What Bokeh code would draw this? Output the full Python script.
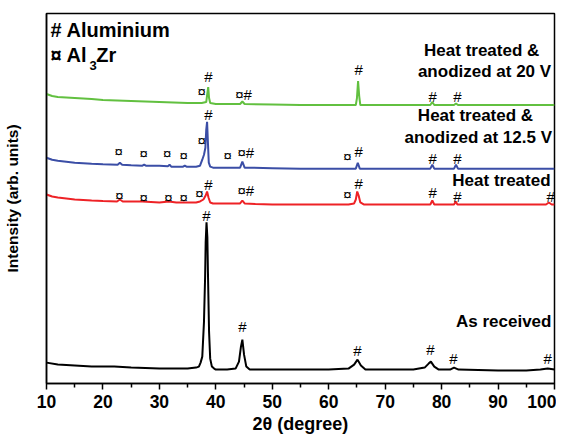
from bokeh.plotting import figure
from bokeh.models import ColumnDataSource, FixedTicker, Range1d, Label
from bokeh.core.properties import value
from bokeh.embed import file_html
from bokeh.resources import INLINE

# ---- data (2theta in degrees, intensity in arbitrary units, stacked) ----
black_x = [10, 12, 15, 18, 20, 22, 25, 30, 35, 36.5, 37.0, 37.3, 37.6, 37.9, 38.1, 38.2, 38.35, 38.5, 38.6, 38.8,
           39.0, 39.3, 39.7, 40, 42, 43.5, 44.1, 44.45, 44.7, 45.0, 45.4, 46, 50, 55, 60, 63.5, 64.5, 65.1, 65.7, 66.5,
           70, 75, 77, 77.7, 78.1, 78.7, 79.5, 81.5, 82.2, 83, 90, 95, 97.5, 98.8, 100]
black_y = [21, 19, 18, 17, 17, 17, 16, 15, 15, 16, 17, 21, 27, 62, 107, 142, 162, 147, 112, 52,
           25, 17, 15, 14, 14, 15, 22, 37, 44, 29, 17, 14, 14, 14, 14, 15, 19, 24, 18, 14,
           14, 14, 16, 20, 22, 17, 14, 14, 16, 14, 13, 13, 14, 15, 14]

red_x = [10, 11, 12, 15, 18, 20, 22.5, 23.0, 23.5, 25, 27, 30, 31.7, 33, 35, 36.5, 37.2, 37.8, 38.2, 38.45,
         38.7, 39.0, 39.5, 41, 44.3, 44.7, 45.1, 47, 50, 55, 60, 63.5, 64.5, 64.8, 65.05, 65.3, 65.6, 66.2, 70, 75,
         78.0, 78.35, 78.7, 82.2, 82.5, 82.8, 90, 98.5, 99.0, 99.5, 100]
red_y = [190, 188, 187, 185, 184, 183.5, 183, 185, 183, 183, 183, 182, 183, 182, 182, 182, 183, 185, 189, 193,
         187, 182, 181, 181, 181, 184, 181, 180.5, 180, 180, 180, 180, 181, 185, 193, 189, 182, 180, 180, 180,
         180, 184, 180, 180, 183, 180, 180, 180, 182, 180, 180]

blue_x = [10, 11, 12, 15, 18, 20, 22.6, 23.0, 23.4, 25, 27.0, 27.3, 27.6, 30, 31.5, 31.8, 32.1, 34.2, 34.5, 34.8,
          36.5, 37.2, 37.6, 37.9, 38.15, 38.3, 38.45, 38.6, 38.75, 39.0, 39.5, 42, 44.3, 44.7, 45.1, 50, 55, 60,
          64.8, 65.15, 65.5, 70, 78.0, 78.35, 78.7, 82.2, 82.55, 82.9, 90, 100]
blue_y = [227, 225, 224, 222, 221, 220.5, 220, 222, 220, 219.5, 219, 220, 219, 219, 218.5, 220, 218, 218, 219, 218,
          218, 219, 225, 230, 237, 255, 263, 242, 222, 218, 217, 217, 217, 223, 217, 216.5, 216, 216,
          216, 222, 216, 216, 216, 220, 216, 216, 220, 216, 216, 216]

green_x = [10, 11, 12, 15, 18, 20, 25, 30, 35, 37.5, 38.3, 38.5, 38.65, 38.8, 39.0, 40, 44.3, 44.7, 45.1, 50,
           55, 60, 64.8, 65.0, 65.2, 65.4, 65.6, 70, 78.0, 78.35, 78.7, 82.2, 82.55, 82.9, 90, 100]
green_y = [291, 289, 288, 287, 286, 285, 284, 283, 282, 282, 283, 292, 298, 287, 282, 281, 281, 283.5, 281, 280.5,
           280, 280, 280, 287, 304, 289, 280, 280, 280, 283, 280, 280, 281.5, 280, 280, 280]

# peak markers: symbol, 2theta, intensity
mark_text = ["#", "¤", "¤#", "#", "#", "#",
             "#", "¤", "¤", "¤", "¤", "¤", "¤", "¤#", "¤", "#", "#", "#",
             "¤", "¤", "¤", "¤", "¤", "#", "¤#", "¤", "#", "#", "#", "#",
             "#", "#", "#", "#", "#", "#"]
mark_x = [38.7, 37.5, 44.9, 65.3, 78.4, 82.8,
          38.7, 37.5, 22.8, 27.2, 31.4, 34.3, 42.1, 45.3, 63.3, 65.3, 78.4, 82.8,
          22.9, 27.2, 31.6, 34.3, 37.1, 38.7, 45.3, 63.3, 65.3, 78.4, 82.8, 99.3,
          38.35, 44.7, 65.1, 78.0, 82.1, 98.8]
mark_y = [309, 294, 291, 316, 289, 289,
          270, 244, 233, 231, 231, 229, 229, 232, 228, 233, 226, 226,
          189, 187, 187, 187, 191, 200, 194, 190, 201, 192, 188, 188,
          169, 57, 33, 34, 25, 25]

# series labels
label_text = ["Heat treated &", "anodized at 20 V", "Heat treated &", "anodized at 12.5 V",
              "Heat treated", "As received"]
label_x = [87.1, 87.6, 86.0, 86.5, 90.6, 91.0]
label_y = [335, 314, 269, 247, 204, 62]

x_ticks = [10, 20, 30, 40, 50, 60, 70, 80, 90, 100]
x_minor = [15, 25, 35, 45, 55, 65, 75, 85, 95]
x_title = "2θ (degree)"
y_title = "Intensity (arb. units)"

FONT = value("Liberation Sans")

p = figure(width=556, height=436, output_backend="svg", toolbar_location=None,
           x_range=Range1d(10, 100), y_range=Range1d(0, 372),
           min_border_left=41, min_border_right=2, min_border_top=13, min_border_bottom=51)
p.grid.visible = False
p.outline_line_color = "black"
p.outline_line_width = 1.5

p.line(black_x, black_y, color="black", line_width=2)
p.line(red_x, red_y, color="#ee2226", line_width=2)
p.line(blue_x, blue_y, color="#3b4ea6", line_width=2)
p.line(green_x, green_y, color="#62c040", line_width=2)

msrc = ColumnDataSource(dict(x=mark_x, y=mark_y, t=mark_text))
p.text(x="x", y="y", text="t", source=msrc, text_align="center", text_baseline="middle",
       text_font=FONT, text_font_size="15px", text_color="black")

lsrc = ColumnDataSource(dict(x=label_x, y=label_y, t=label_text))
p.text(x="x", y="y", text="t", source=lsrc, text_align="center", text_baseline="middle",
       text_font=FONT, text_font_size="17px", text_font_style="bold", text_color="black")

# legend of symbols
for txt, x, y, size in [("# Aluminium", 10.71, 355, "20px"), ("¤ Al", 10.71, 330, "20px"),
                        ("3", 17.6, 320, "13px"), ("Zr", 18.8, 330, "20px")]:
    p.add_layout(Label(x=x, y=y, text=txt, text_font="Liberation Sans", text_font_size=size,
                       text_font_style="bold", text_baseline="middle", text_align="left",
                       text_color="black"))

xa = p.xaxis[0]
xa.ticker = FixedTicker(ticks=x_ticks, minor_ticks=x_minor)
xa.axis_label = x_title
xa.axis_label_text_font = "Liberation Sans"
xa.axis_label_text_font_style = "bold"
xa.axis_label_text_font_size = "18px"
xa.axis_label_text_color = "black"
xa.axis_label_standoff = 3
xa.major_label_text_font = "Liberation Sans"
xa.major_label_text_font_style = "bold"
xa.major_label_text_font_size = "17.5px"
xa.major_label_text_color = "black"
xa.major_label_standoff = 5
xa.major_tick_in = 0
xa.major_tick_out = 6
xa.minor_tick_in = 0
xa.minor_tick_out = 4
xa.axis_line_width = 1.5
xa.major_tick_line_width = 1.5
xa.minor_tick_line_width = 1.5

ya = p.yaxis[0]
ya.ticker = FixedTicker(ticks=[], minor_ticks=[])
ya.major_label_text_font_size = "0px"
ya.axis_label = y_title
ya.axis_label_text_font = "Liberation Sans"
ya.axis_label_text_font_style = "bold"
ya.axis_label_text_font_size = "15.5px"
ya.axis_label_text_color = "black"
ya.axis_label_standoff = 26
ya.axis_line_width = 1.5

open("out.html", "w").write(file_html(p, INLINE))
